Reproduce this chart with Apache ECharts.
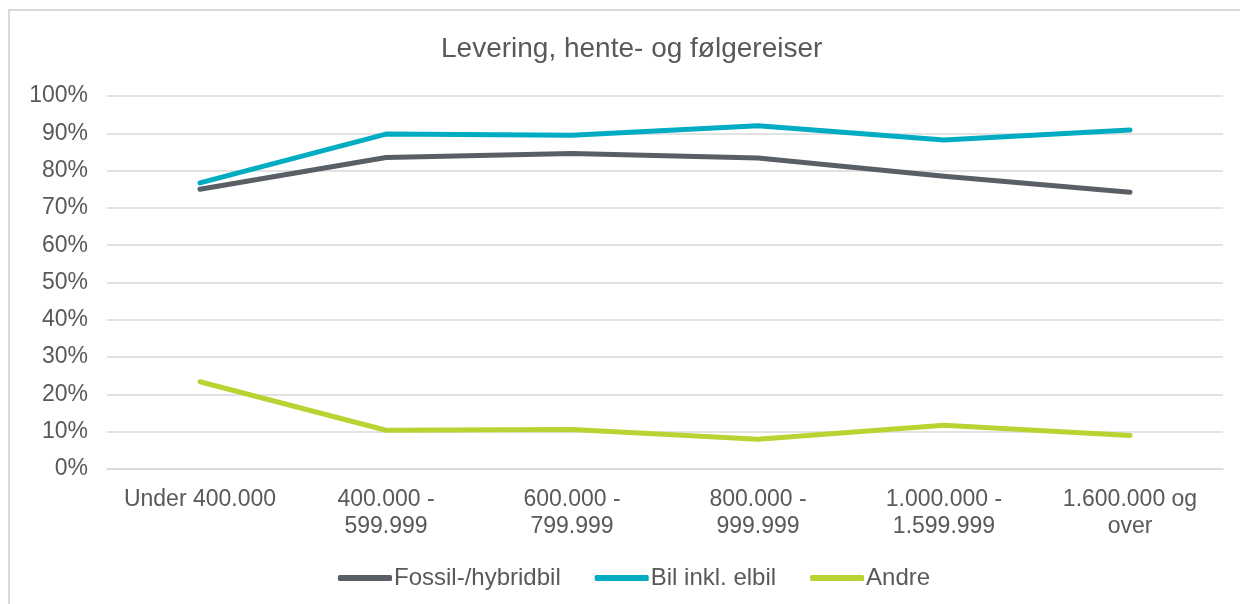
<!DOCTYPE html>
<html>
<head>
<meta charset="utf-8">
<script src="https://cdn.jsdelivr.net/npm/echarts@6/dist/echarts.min.js"></script>
<style>
html,body{margin:0;padding:0;background:#fff;}
#chart{width:1240px;height:604px;}
</style>
</head>
<body>
<div id="chart"></div>
<script>
const title = 'Levering, hente- og følgereiser';
const categories = ['Under 400.000', '400.000 -\n599.999', '600.000 -\n799.999', '800.000 -\n999.999', '1.000.000 -\n1.599.999', '1.600.000 og\nover'];
const seriesNames = ['Fossil-/hybridbil', 'Bil inkl. elbil', 'Andre'];
const fossil = [75.0, 83.5, 84.6, 83.4, 78.5, 74.2];
const bilInklElbil = [76.7, 89.8, 89.5, 92.0, 88.2, 90.9];
const andre = [23.4, 10.4, 10.6, 8.0, 11.7, 9.0];
const colors = ['#595f64', '#00acc1', '#b7d432'];

const chart = echarts.init(document.getElementById('chart'), null, {renderer: 'canvas'});
const font = 'Liberation Sans, Arial, sans-serif';
const dataSets = [fossil, bilInklElbil, andre];
chart.setOption({
  animation: false,
  backgroundColor: '#fff',
  title: {
    text: title, left: 436, top: 30,
    textStyle: {fontFamily: font, fontSize: 28, fontWeight: 'normal', color: '#595959'}
  },
  graphic: [{
    type: 'rect', shape: {x: 9, y: 10, width: 1240, height: 610},
    style: {fill: 'none', stroke: '#d9d9d9', lineWidth: 2}, silent: true
  }],
  legend: {
    bottom: 9, left: 333,
    itemWidth: 54, itemHeight: 6, itemGap: 34,
    icon: 'roundRect',
    textStyle: {fontFamily: font, fontSize: 24, color: '#595959', padding: [0, 0, 0, -3]},
    data: seriesNames
  },
  grid: {left: 107, right: 17, top: 96, bottom: 135},
  xAxis: {
    type: 'category', data: categories, boundaryGap: true,
    axisLine: {lineStyle: {color: '#d9d9d9', width: 1.5}},
    axisTick: {show: false},
    axisLabel: {fontFamily: font, fontSize: 23, color: '#595959', lineHeight: 27, margin: 17, interval: 0}
  },
  yAxis: {
    type: 'value', min: 0, max: 100, interval: 10,
    axisLine: {show: false}, axisTick: {show: false},
    axisLabel: {fontFamily: font, fontSize: 23, color: '#595959', margin: 19, formatter: '{value}%'},
    splitLine: {lineStyle: {color: '#d9d9d9', width: 1.5}}
  },
  series: seriesNames.map((n, i) => ({
    name: n, type: 'line', data: dataSets[i], symbol: 'none',
    lineStyle: {color: colors[i], width: 5, cap: 'round', join: 'round'},
    itemStyle: {color: colors[i]}
  }))
});
</script>
</body>
</html>
